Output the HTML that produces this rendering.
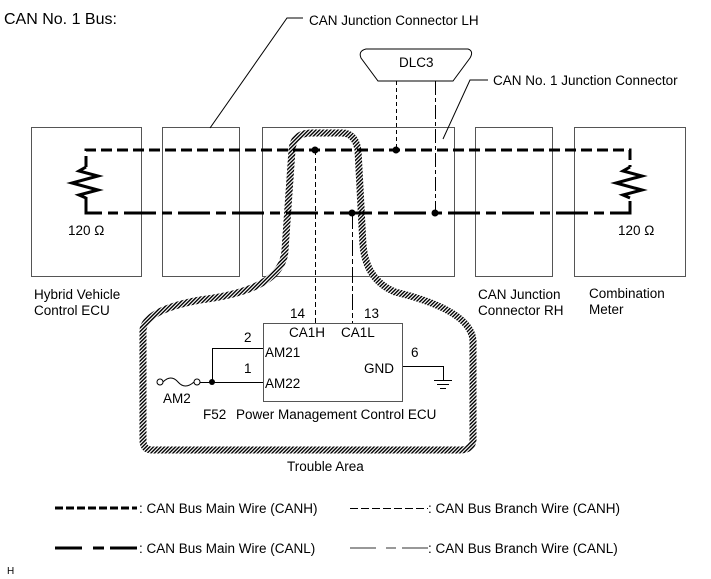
<!DOCTYPE html>
<html><head><meta charset="utf-8"><style>
body{margin:0;background:#fff}
svg{display:block}
text{font-family:"Liberation Sans",sans-serif;font-size:13.5px;fill:#000}
</style></head><body>
<svg width="711" height="579" viewBox="0 0 711 579" xmlns="http://www.w3.org/2000/svg">
<defs>
<pattern id="h" width="2.6" height="2.6" patternUnits="userSpaceOnUse" patternTransform="rotate(45)">
<rect width="2.6" height="2.6" fill="#fff"/><rect width="1.4" height="2.6" fill="#000"/>
</pattern>
</defs>
<text x="4" y="24" style="font-size:16px">CAN No. 1 Bus:</text>
<g fill="none" stroke="#555" stroke-width="1">
<rect x="31.5" y="127.5" width="110" height="149"/>
<rect x="162.5" y="127.5" width="77" height="149"/>
<rect x="262.5" y="127.5" width="192" height="149"/>
<rect x="475.5" y="127.5" width="77" height="149"/>
<rect x="574.5" y="127.5" width="111" height="149"/>
</g>
<polyline points="210,128 287,18 303,18" fill="none" stroke="#000" stroke-width="1"/>
<text x="309" y="25">CAN Junction Connector LH</text>
<polyline points="443,139 470,80 488,80" fill="none" stroke="#000" stroke-width="1"/>
<text x="493" y="85">CAN No. 1 Junction Connector</text>
<path d="M366,49 L468,49 Q474,51 470,58 L453,81 L378,81 L361,58 Q358,51 366,49 Z" fill="#fff" stroke="#000" stroke-width="1"/>
<text x="399" y="67">DLC3</text>
<line x1="396.5" y1="81" x2="396.5" y2="150" stroke="#000" stroke-dasharray="4,3"/>
<line x1="435.5" y1="81" x2="435.5" y2="213" stroke="#000" stroke-dasharray="14,3,4,3"/>
<path d="M298,137 Q302,133 312,133 L342,133 Q355,133 358,150 L363,245 Q366,280 395,292 Q470,310 473,340 L473,440 Q472,450 460,450 L152,450 Q143,450 143,440 L143,330 Q145,310 200,300 Q283,290 285,250 L292,150 Q293,140 298,137 Z" fill="none" stroke="url(#h)" stroke-width="7"/>
<polyline points="86,167 86,150 630,150 630,167" fill="none" stroke="#000" stroke-width="3" stroke-dasharray="11,5"/>
<polyline points="86,197 86,213 630,213 630,197" fill="none" stroke="#000" stroke-width="3" stroke-dasharray="32,6,10,6"/>
<polyline points="86,167 79,171 98,176 72,183 98,190 79,195 86,198" fill="none" stroke="#000" stroke-width="3"/>
<polyline points="630,167 623,171 642,176 616,183 642,190 623,195 630,198" fill="none" stroke="#000" stroke-width="3"/>
<text x="68" y="235">120 Ω</text>
<text x="618" y="235">120 Ω</text>
<line x1="315.5" y1="150" x2="315.5" y2="323" stroke="#000" stroke-dasharray="5,3"/>
<line x1="352.5" y1="213" x2="352.5" y2="323" stroke="#000" stroke-dasharray="16,3,5,3"/>
<g fill="#000"><circle cx="315" cy="150" r="3.5"/><circle cx="396" cy="150" r="3.5"/><circle cx="352" cy="213" r="3.5"/><circle cx="435" cy="213" r="3.5"/><circle cx="212" cy="382" r="3"/></g>
<text x="34" y="299">Hybrid Vehicle</text><text x="34" y="315">Control ECU</text>
<text x="478" y="299">CAN Junction</text><text x="478" y="315">Connector RH</text>
<text x="589" y="298">Combination</text><text x="589" y="314">Meter</text>
<rect x="263.5" y="323.5" width="139" height="78" fill="none" stroke="#555"/>
<text x="290" y="318">14</text><text x="364" y="318">13</text>
<text x="289" y="337">CA1H</text><text x="341" y="337">CA1L</text>
<text x="265" y="357">AM21</text><text x="265" y="388">AM22</text>
<text x="364" y="373">GND</text>
<text x="244" y="342">2</text><text x="244" y="373">1</text><text x="411" y="357">6</text>
<polyline points="263,348.5 212.5,348.5 212.5,382" fill="none" stroke="#000" stroke-width="1"/>
<line x1="212" y1="382.5" x2="263" y2="382.5" stroke="#000"/>
<polyline points="403,366.5 443.5,366.5 443.5,380" fill="none" stroke="#000"/>
<line x1="434" y1="380.5" x2="452" y2="380.5" stroke="#000"/><line x1="437" y1="384.5" x2="449" y2="384.5" stroke="#000"/><line x1="440" y1="388.5" x2="446" y2="388.5" stroke="#000"/>
<circle cx="160" cy="382" r="3" fill="#fff" stroke="#000"/><circle cx="197" cy="382" r="3" fill="#fff" stroke="#000"/>
<path d="M163,382 Q171,374 178,382 Q185,390 194,382" fill="none" stroke="#000"/>
<line x1="200" y1="382.5" x2="212" y2="382.5" stroke="#000"/>
<text x="163" y="403">AM2</text>
<text x="203" y="419">F52</text>
<text x="236" y="419">Power Management Control ECU</text>
<text x="287" y="471">Trouble Area</text>
<line x1="55" y1="508" x2="137" y2="508" stroke="#000" stroke-width="3" stroke-dasharray="8,3"/>
<text x="139" y="513">: CAN Bus Main Wire (CANH)</text>
<line x1="350" y1="508.5" x2="428" y2="508.5" stroke="#000" stroke-width="1" stroke-dasharray="8,3"/>
<text x="428" y="513">: CAN Bus Branch Wire (CANH)</text>
<line x1="55" y1="548" x2="82" y2="548" stroke="#000" stroke-width="3"/>
<line x1="93" y1="548" x2="104" y2="548" stroke="#000" stroke-width="3"/>
<line x1="110" y1="548" x2="137" y2="548" stroke="#000" stroke-width="3"/>
<text x="139" y="553">: CAN Bus Main Wire (CANL)</text>
<line x1="350" y1="548" x2="376" y2="548" stroke="#777" stroke-width="1.5"/>
<line x1="386" y1="548" x2="396" y2="548" stroke="#777" stroke-width="1.5"/>
<line x1="402" y1="548" x2="428" y2="548" stroke="#777" stroke-width="1.5"/>
<text x="428" y="553">: CAN Bus Branch Wire (CANL)</text>
<text x="7" y="574" style="font-size:10px">H</text>
</svg>
</body></html>
